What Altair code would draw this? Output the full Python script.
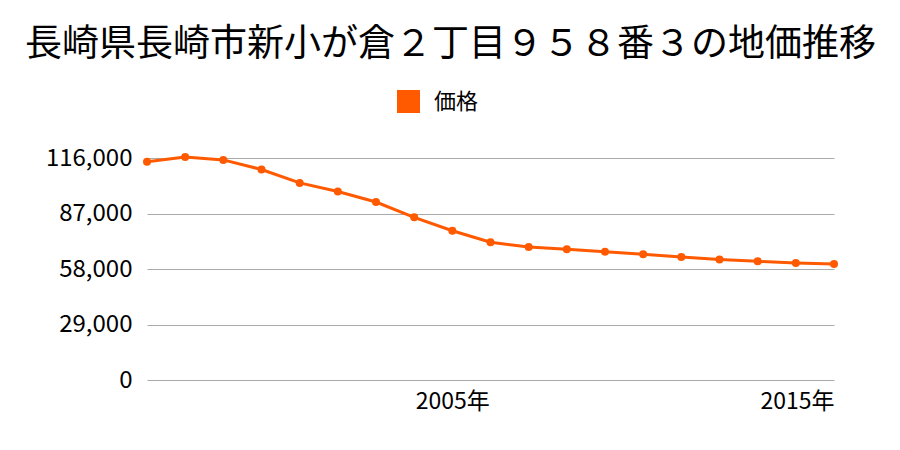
import altair as alt
import pandas as pd

years = list(range(1997, 2016))
prices = [114000, 116500, 115000, 110000, 103000, 98500, 93000, 85000, 78000,
          72000, 69500, 68300, 67000, 65700, 64300, 63000, 62000, 61100, 60600]
series = ["価格"] * len(years)
y_ticks = [0, 29000, 58000, 87000, 116000]
x_ticks = [2005, 2015]

df = pd.DataFrame({"year": years, "price": prices, "series": series})

FONT = "Noto Sans CJK JP"
COLOR = "#ff5a00"

x = alt.X("year:Q",
          scale=alt.Scale(domain=[1997, 2015], nice=False, zero=False),
          axis=alt.Axis(values=x_ticks, labelExpr="datum.value + '年'", title=None,
                        grid=False, domain=False, ticks=False, labelFontSize=23,
                        labelFont=FONT, labelColor="#000", labelPadding=10))
y = alt.Y("price:Q",
          scale=alt.Scale(domain=[0, 116000], nice=False),
          axis=alt.Axis(values=y_ticks, format=",d", title=None, domain=False, ticks=False,
                        gridColor="#aaaaaa", gridWidth=1, labelFontSize=24, labelFont=FONT,
                        labelColor="#000", labelPadding=15))
color = alt.Color("series:N", scale=alt.Scale(domain=["価格"], range=[COLOR]),
                  legend=alt.Legend(title=None, orient="none", legendX=250, legendY=-68,
                                    symbolType="square", symbolSize=529, symbolStrokeWidth=0,
                                    labelFontSize=22, labelFont=FONT, labelColor="#000",
                                    labelOffset=14))

base = alt.Chart(df)
line = base.mark_line(strokeWidth=3).encode(x=x, y=y, color=color)
pts = base.mark_circle(size=64, opacity=1).encode(x=x, y=y, color=color)

chart = (line + pts).properties(
    width=687, height=222,
    background="white",
    title=alt.TitleParams("長崎県長崎市新小が倉２丁目９５８番３の地価推移", font=FONT,
                          fontSize=37, fontWeight="normal", color="#000",
                          anchor="middle", dx=-40, offset=26),
    autosize=alt.AutoSizeParams(type="none"),
    padding={"left": 147, "top": 158, "right": 66, "bottom": 70},
).configure_view(stroke=None, strokeWidth=0)

chart.save("out.html", embed_options={"renderer": "svg", "actions": False})
